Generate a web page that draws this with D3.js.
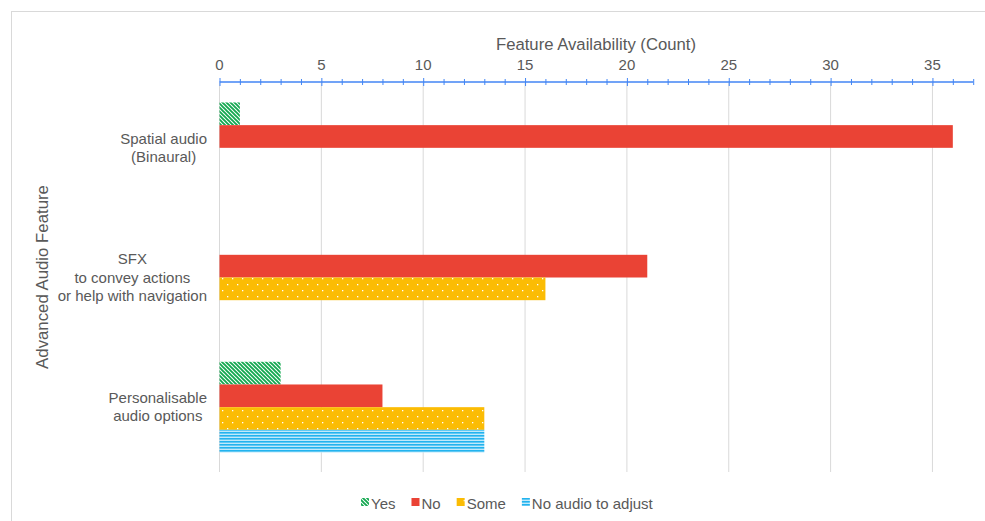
<!DOCTYPE html>
<html>
<head>
<meta charset="utf-8">
<script src="https://cdn.jsdelivr.net/npm/d3@7/dist/d3.min.js"></script>
<style>
  html, body { margin: 0; padding: 0; background: #fff; }
  svg { display: block; font-family: "Liberation Sans", Arial, sans-serif; }
</style>
</head>
<body>
<svg id="chart" width="985" height="521"></svg>
<script>
// Feature categories (top to bottom) with multi-line labels
const categories = ["Spatial audio (Binaural)", "SFX to convey actions or help with navigation", "Personalisable audio options"];
const categoryLines = [
  ["Spatial audio", "(Binaural)"],
  ["SFX", "to convey actions", "or help with navigation"],
  ["Personalisable", "audio options"]
];
const seriesNames = ["Yes", "No", "Some", "No audio to adjust"];
const yesValues = [1, 0, 3];
const noValues = [36, 21, 8];
const someValues = [0, 16, 13];
const noAudioValues = [0, 0, 13];
const xTicks = [0, 5, 10, 15, 20, 25, 30, 35];
const xMax = 37;

const seriesValues = [yesValues, noValues, someValues, noAudioValues];

const svg = d3.select("#chart");
const W = 985, H = 521;
const margin = { left: 219.5, right: 11.5, top: 83, bottom: 49 };

// chart frame
svg.append("rect").attr("x", 11.5).attr("y", 11.5).attr("width", W).attr("height", H)
  .attr("fill", "#fff").attr("stroke", "#d9d9d9").attr("stroke-width", 1);

// fill patterns
const defs = svg.append("defs");
const pYes = defs.append("pattern").attr("id", "pat-yes").attr("patternUnits", "userSpaceOnUse")
  .attr("width", 4).attr("height", 4);
pYes.append("rect").attr("width", 4).attr("height", 4).attr("fill", "#fff");
pYes.append("path").attr("d", "M-1,-1 L5,5 M-1,3 L1,5 M3,-1 L5,1")
  .attr("stroke", "#14a850").attr("stroke-width", 1.9);

const pSome = defs.append("pattern").attr("id", "pat-some").attr("patternUnits", "userSpaceOnUse")
  .attr("width", 10).attr("height", 12);
pSome.append("rect").attr("width", 10).attr("height", 12).attr("fill", "#fbbc04");
pSome.append("rect").attr("x", 2).attr("y", 2).attr("width", 1.3).attr("height", 1.3).attr("fill", "#fff");
pSome.append("rect").attr("x", 7).attr("y", 8).attr("width", 1.3).attr("height", 1.3).attr("fill", "#fff");

const pNoAudio = defs.append("pattern").attr("id", "pat-noaudio").attr("patternUnits", "userSpaceOnUse")
  .attr("width", 4).attr("height", 3);
pNoAudio.append("rect").attr("width", 4).attr("height", 3).attr("fill", "#bfe9fb");
pNoAudio.append("rect").attr("y", 0).attr("width", 4).attr("height", 1.6).attr("fill", "#22b3ee");

const fills = ["url(#pat-yes)", "#ea4335", "url(#pat-some)", "url(#pat-noaudio)"];

const x = d3.scaleLinear().domain([0, xMax]).range([margin.left, margin.left + xMax * 20.37]);
const y = d3.scaleBand().domain(categories).range([margin.top, H - margin.bottom]).paddingInner(0.3).paddingOuter(0.15);
const ySub = d3.scaleBand().domain(seriesNames).range([0, y.bandwidth()]).padding(0);

const plotTop = margin.top, plotBottom = 472;

// vertical gridlines
svg.append("g").selectAll("line").data(xTicks).join("line")
  .attr("x1", d => x(d)).attr("x2", d => x(d))
  .attr("y1", plotTop).attr("y2", plotBottom)
  .attr("stroke", "#d9d9d9").attr("stroke-width", 1);

// bars
const barData = [];
categories.forEach((c, ci) => {
  seriesNames.forEach((s, si) => {
    const v = seriesValues[si][ci];
    if (v > 0) barData.push({ c, s, si, v });
  });
});
svg.append("g").selectAll("rect").data(barData).join("rect")
  .attr("x", x(0))
  .attr("y", d => y(d.c) + ySub(d.s))
  .attr("width", d => x(d.v) - x(0))
  .attr("height", ySub.bandwidth())
  .attr("fill", d => fills[d.si]);

// top axis with minor ticks
const axisY = 82;
const axisG = svg.append("g").attr("transform", `translate(0,${axisY})`);
axisG.call(d3.axisTop(x).tickValues(d3.range(0, xMax + 1)).tickSize(0).tickFormat(""));
axisG.select(".domain").attr("stroke", "#4285f4").attr("stroke-width", 1.3)
  .attr("d", `M${x(0)},0H${x(xMax)}`);
axisG.selectAll(".tick line").remove();
axisG.selectAll(".tick").append("line")
  .attr("y1", d => d % 5 === 0 ? -4 : -3).attr("y2", d => d % 5 === 0 ? 4 : 3)
  .attr("stroke", "#4285f4").attr("stroke-width", 1);

svg.append("g").selectAll("text").data(xTicks).join("text")
  .attr("x", d => x(d)).attr("y", 70)
  .attr("text-anchor", "middle").attr("font-size", 15).attr("fill", "#595959")
  .text(d => d);

// axis titles
svg.append("text").attr("x", 596).attr("y", 50).attr("text-anchor", "middle")
  .attr("font-size", 16.7).attr("fill", "#595959").text("Feature Availability (Count)");
svg.append("text").attr("transform", "translate(48,277) rotate(-90)").attr("text-anchor", "middle")
  .attr("font-size", 16.8).attr("fill", "#595959").text("Advanced Audio Feature");

// category labels: centred multi-line blocks, right edge near the plot
const labelRight = 207;
categories.forEach((c, ci) => {
  const lines = categoryLines[ci];
  const g = svg.append("g");
  const cy = y(c) + y.bandwidth() / 2;
  const lh = 18.5;
  const texts = lines.map((ln, li) => g.append("text")
    .attr("y", cy + (li - (lines.length - 1) / 2) * lh + 5)
    .attr("text-anchor", "middle").attr("font-size", 15).attr("fill", "#595959").text(ln));
  const maxW = d3.max(texts, t => t.node().getComputedTextLength());
  texts.forEach(t => t.attr("x", labelRight - maxW / 2));
});

// legend
const legend = svg.append("g");
const legendY = 503;
let lx = 361;
seriesNames.forEach((s, si) => {
  const it = legend.append("g").attr("transform", `translate(${lx},0)`);
  it.append("rect").attr("x", 0).attr("y", legendY - 5).attr("width", 8).attr("height", 8).attr("fill", fills[si]);
  const t = it.append("text").attr("x", 10).attr("y", legendY + 5.5)
    .attr("font-size", 15).attr("fill", "#595959").text(s);
  lx += 10 + t.node().getComputedTextLength() + 16;
});
</script>
</body>
</html>
